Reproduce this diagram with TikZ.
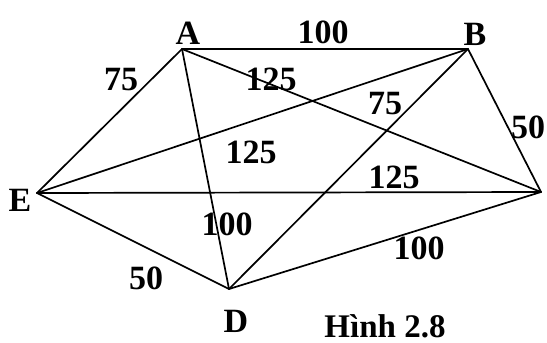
\documentclass[tikz,border=0pt]{standalone}
\usepackage{fontspec}
\setmainfont{Liberation Serif}
\begin{document}
\begin{tikzpicture}[x=1pt,y=-1pt,
  edge/.style={line width=1.7pt,line join=round,line cap=round},
  lbl/.style={font=\fontsize{34}{34}\selectfont\bfseries,inner sep=0pt,anchor=center},
  captxt/.style={font=\fontsize{33}{33}\selectfont\bfseries,inner sep=0pt,anchor=base}]
\useasboundingbox (0,0) rectangle (547,343);
\clip (0,0) rectangle (547,343);
\coordinate (A) at (182,49);
\coordinate (B) at (468,49);
\coordinate (C) at (541,192);
\coordinate (D) at (229,289);
\coordinate (E) at (37,193);
\draw[edge] (A) -- (B);
\draw[edge] (A) -- (E);
\draw[edge] (A) -- (C);
\draw[edge] (A) -- (D);
\draw[edge] (B) -- (E);
\draw[edge] (B) -- (D);
\draw[edge] (B) -- (C);
\draw[edge] (E) -- (C);
\draw[edge] (E) -- (D);
\draw[edge] (D) -- (C);
\node[lbl] (la) at (188,33) {A};
\node[lbl] (lb) at (475,34) {B};
\node[lbl] (le) at (20,200) {E};
\node[lbl] (ld) at (236,321) {D};
\node[lbl] (wab) at (323,32) {100};
\node[lbl] (wae) at (121,80) {75};
\node[lbl] (wac) at (271,79) {125};
\node[lbl] (wbe) at (251,152) {125};
\node[lbl] (wbd) at (385,104) {75};
\node[lbl] (wbc) at (528,127) {50};
\node[lbl] (wec) at (394,177) {125};
\node[lbl] (wad) at (227,224) {100};
\node[lbl] (wed) at (146,278) {50};
\node[lbl] (wdc) at (419,248) {100};
\node[captxt] (caption) at (385,337) {Hình 2.8};
\end{tikzpicture}
\end{document}
